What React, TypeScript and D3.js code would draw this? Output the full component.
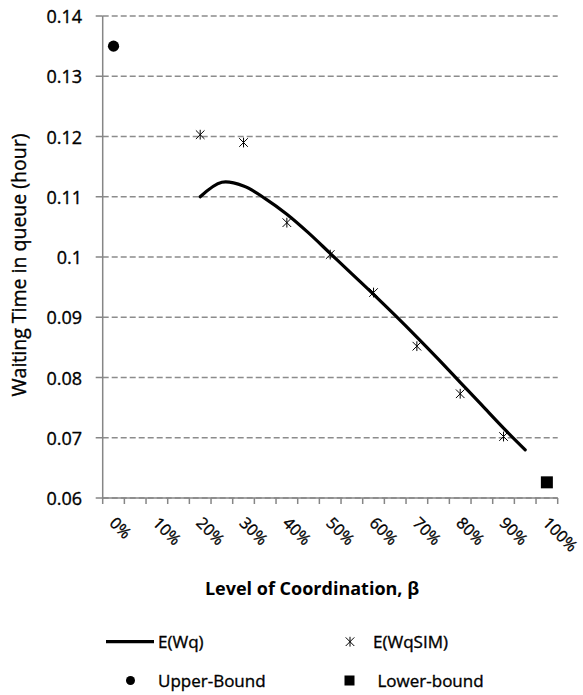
import React from "react";
import * as d3 from "d3";

// Category axis: level of coordination in 5% steps
const levels = [
  "0%", "5%", "10%", "15%", "20%", "25%", "30%", "35%", "40%", "45%", "50%",
  "55%", "60%", "65%", "70%", "75%", "80%", "85%", "90%", "95%", "100%",
];

// Analytical expected waiting time E(Wq)
const ewqLevels = [
  "20%", "25%", "30%", "35%", "40%", "45%", "50%", "55%",
  "60%", "65%", "70%", "75%", "80%", "85%", "90%", "95%",
];
const ewqValues = [
  0.1100, 0.1124, 0.1118, 0.1097, 0.1071, 0.1040, 0.1006, 0.0972,
  0.0938, 0.0903, 0.0867, 0.0830, 0.0792, 0.0754, 0.0716, 0.0680,
];

// Simulated waiting time E(WqSIM)
const simLevels = ["20%", "30%", "40%", "50%", "60%", "70%", "80%", "90%"];
const simValues = [0.1203, 0.1190, 0.1057, 0.1004, 0.0941, 0.0852, 0.0773, 0.0702];

// Bounds
const upperLevel = "0%";
const upperValue = 0.135;
const lowerLevel = "100%";
const lowerValue = 0.0626;

const yTicks = [0.06, 0.07, 0.08, 0.09, 0.1, 0.11, 0.12, 0.13, 0.14];

const W = 583;
const H = 695;
const FONT = "'Open Sans', 'Liberation Sans', sans-serif";
const AXIS = "#868686";
const INK = { fill: "#000", stroke: "#000", strokeWidth: 0.35 };

export default function App() {
  const x = d3.scaleBand<string>().domain(levels).range([102.7, 557.7]).padding(0);
  const y = d3.scaleLinear().domain([0.06, 0.14]).range([498, 16]);
  const cx = (l: string) => (x(l) as number) + x.bandwidth() / 2;

  const line = d3
    .line<number>()
    .x((_, i) => cx(ewqLevels[i]))
    .y((d) => y(d))
    .curve(d3.curveCatmullRom.alpha(0.5));

  const [x0, x1] = x.range();
  const boundaries = levels.map((l) => x(l) as number).concat([x1]);

  const star = (px: number, py: number, s = 4.3) =>
    `M${px - s},${py - s}L${px + s},${py + s}M${px - s},${py + s}L${px + s},${py - s}M${px},${py - s - 0.6}L${px},${py + s + 0.6}`;

  return (
    <svg
      width={W}
      height={H}
      style={{ position: "absolute", left: 0, top: 0, background: "#fff" }}
      fontFamily={FONT}
    >
      {/* horizontal gridlines */}
      {yTicks.map((t) => (
        <line
          key={"g" + t}
          x1={x0}
          x2={x1}
          y1={y(t)}
          y2={y(t)}
          stroke="#8c8c8c"
          strokeWidth={1.3}
          strokeDasharray="6,3"
        />
      ))}
      {/* y axis */}
      <line x1={x0} x2={x0} y1={y(0.14)} y2={y(0.06)} stroke={AXIS} strokeWidth={1.5} />
      {yTicks.map((t) => (
        <g key={"yt" + t}>
          <line x1={x0 - 7} x2={x0} y1={y(t)} y2={y(t)} stroke={AXIS} strokeWidth={1.5} />
          <text
            x={82}
            y={y(t)}
            textAnchor="end"
            dominantBaseline="central"
            fontSize={18}
            {...INK}
          >
            {String(t)}
          </text>
        </g>
      ))}
      {/* x axis */}
      <line x1={x0} x2={x1} y1={y(0.06)} y2={y(0.06)} stroke={AXIS} strokeWidth={1.5} />
      {boundaries.map((b, i) => (
        <line key={"xt" + i} x1={b} x2={b} y1={y(0.06)} y2={y(0.06) + 6} stroke={AXIS} strokeWidth={1.5} />
      ))}
      {levels.map((l, i) =>
        i % 2 === 0 ? (
          <text
            key={"xl" + l}
            transform={`translate(${cx(l) - 5},${524}) rotate(45)`}
            fontSize={16}
            {...INK}
          >
            {l}
          </text>
        ) : null
      )}

      {/* axis titles */}
      <text
        transform={`translate(26,265) rotate(-90)`}
        textAnchor="middle"
        fontSize={19.5}
        {...INK}
      >
        Waiting Time in queue (hour)
      </text>
      <text x={312} y={595} textAnchor="middle" fontSize={18} fontWeight="bold" fill="#000">
        Level of Coordination, β
      </text>

      {/* E(Wq) curve */}
      <path d={line(ewqValues) || ""} fill="none" stroke="#000" strokeWidth={3.2} strokeLinecap="round" />

      {/* E(WqSIM) markers */}
      {simValues.map((v, i) => (
        <path key={"s" + i} d={star(cx(simLevels[i]), y(v))} stroke="#000" strokeWidth={1} fill="none" />
      ))}

      {/* bounds */}
      <circle cx={cx(upperLevel)} cy={y(upperValue)} r={5.6} fill="#000" />
      <rect x={cx(lowerLevel) - 6} y={y(lowerValue) - 6} width={12} height={12} fill="#000" />

      {/* legend */}
      <g fontSize={17} {...INK}>
        <line x1={106} x2={154} y1={641.7} y2={641.7} stroke="#000" strokeWidth={3.2} />
        <text x={158} y={641.7} dominantBaseline="central">E(Wq)</text>
        <path d={star(350, 641.7)} stroke="#000" strokeWidth={1} fill="none" />
        <text x={373} y={641.7} dominantBaseline="central">E(WqSIM)</text>
        <circle cx={130.5} cy={680.5} r={4.5} strokeWidth={0} />
        <text x={158} y={680.5} dominantBaseline="central">Upper-Bound</text>
        <rect x={344.5} y={675.5} width={10} height={10} strokeWidth={0} />
        <text x={377.5} y={680.5} dominantBaseline="central">Lower-bound</text>
      </g>
    </svg>
  );
}
